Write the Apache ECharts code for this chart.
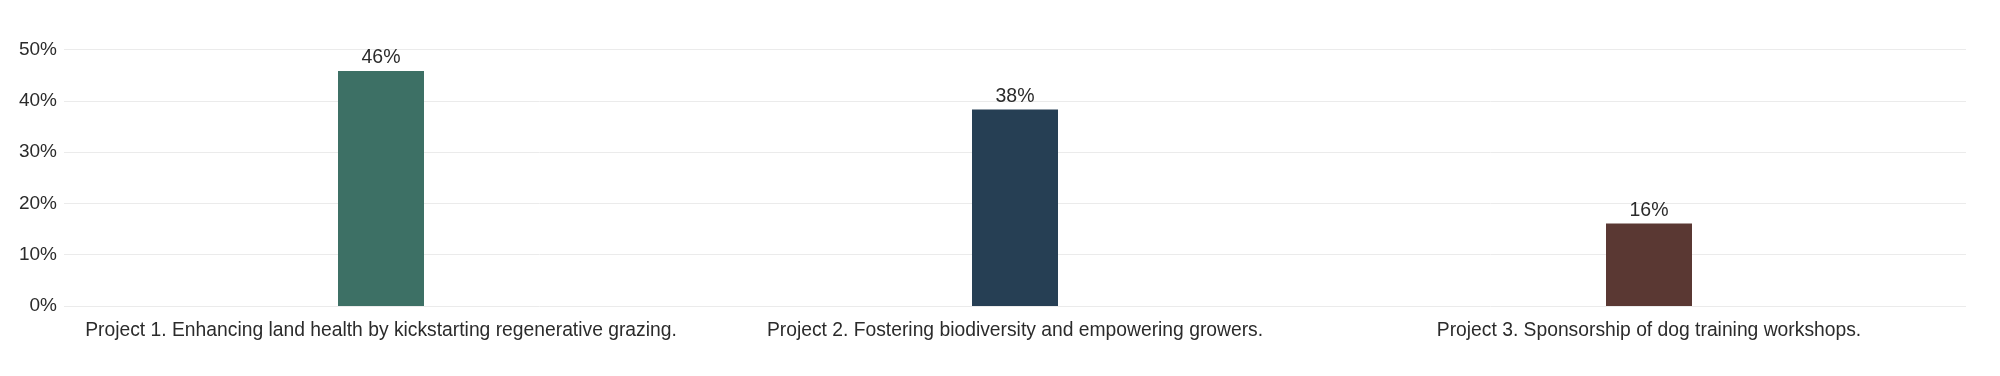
<!DOCTYPE html>
<html>
<head>
<meta charset="utf-8">
<script src="https://cdn.jsdelivr.net/npm/echarts@6/dist/echarts.min.js"></script>
<style>
  html, body { margin: 0; padding: 0; background: #fff; }
  #chart { width: 2000px; height: 376px; }
</style>
</head>
<body>
<div id="chart"></div>
<script>
var projects = [
    'Project 1. Enhancing land health by kickstarting regenerative grazing.',
    'Project 2. Fostering biodiversity and empowering growers.',
    'Project 3. Sponsorship of dog training workshops.'
];
var shares = [45.8, 38.3, 16.1];
var barColors = ['#3d7065', '#263f54', '#5a3833'];
var yTicks = [0, 10, 20, 30, 40, 50];

var myChart = echarts.init(document.getElementById('chart'));

var barData = shares.map(function(v, i) {
    return { value: v, itemStyle: { color: barColors[i] } };
});

var option = {
    animation: false,
    textStyle: { fontFamily: '"Liberation Sans", Arial, sans-serif' },
    grid: { left: 64, right: 34, top: 49.5, bottom: 70 },
    xAxis: {
        type: 'category',
        data: projects,
        axisLine: { show: false },
        axisTick: { show: false },
        axisLabel: { color: '#2b2b2b', fontSize: 19.3, margin: 15, interval: 0 }
    },
    yAxis: {
        type: 'value',
        min: yTicks[0],
        max: yTicks[yTicks.length - 1],
        interval: 10,
        axisLine: { show: false },
        axisTick: { show: false },
        axisLabel: { color: '#2b2b2b', fontSize: 19, margin: 7, formatter: '{value}%' },
        splitLine: { lineStyle: { color: '#ebebeb', width: 1 } }
    },
    series: [{
        type: 'bar',
        data: barData,
        barWidth: 86,
        label: {
            show: true,
            position: 'top',
            distance: 3,
            color: '#2b2b2b',
            fontSize: 19.5,
            formatter: function(p) { return Math.round(p.value) + '%'; }
        }
    }]
};

myChart.setOption(option);
</script>
</body>
</html>
